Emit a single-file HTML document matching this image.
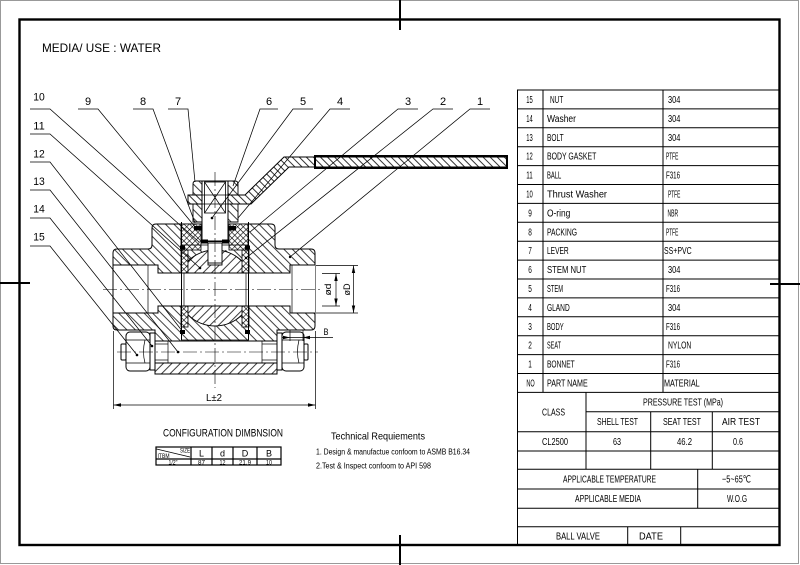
<!DOCTYPE html>
<html><head><meta charset="utf-8"><style>
html,body{margin:0;padding:0;background:#fff;}
svg{display:block;}
text{font-family:"Liberation Sans","DejaVu Sans",sans-serif;fill:#000;}
.t{font-size:10px;}
.n{font-size:11px;fill:#111;}
</style></head><body>
<svg width="800" height="565" viewBox="0 0 800 565" xmlns="http://www.w3.org/2000/svg">
<defs>
 <pattern id="hb" width="6" height="6" patternUnits="userSpaceOnUse" patternTransform="rotate(-45)"><line x1="0.5" y1="0" x2="0.5" y2="6" stroke="#000" stroke-width="0.75"/></pattern>
 <pattern id="hf" width="6" height="6" patternUnits="userSpaceOnUse" patternTransform="rotate(45)"><line x1="0.5" y1="0" x2="0.5" y2="6" stroke="#000" stroke-width="0.75"/></pattern>
 <pattern id="hl" width="5" height="5" patternUnits="userSpaceOnUse" patternTransform="rotate(-45)"><line x1="0.5" y1="0" x2="0.5" y2="5" stroke="#000" stroke-width="0.8"/></pattern>
 <pattern id="hx" width="4" height="4" patternUnits="userSpaceOnUse" patternTransform="rotate(45)"><path d="M0.3,0V4M0,0.3H4" stroke="#000" stroke-width="0.6" fill="none"/></pattern>
 <clipPath id="bc"><rect x="182" y="240" width="66" height="100"/></clipPath>
</defs>

<!-- frames -->
<rect x="0.5" y="0.5" width="798" height="563" fill="none" stroke="#999" stroke-width="1"/>
<rect x="19.5" y="19.5" width="760" height="525.5" fill="none" stroke="#000" stroke-width="2.4"/>
<line x1="400" y1="0" x2="400" y2="30" stroke="#000" stroke-width="2"/>
<line x1="400" y1="535" x2="400" y2="565" stroke="#000" stroke-width="2"/>
<line x1="0" y1="283" x2="30" y2="283" stroke="#000" stroke-width="2"/>
<line x1="770" y1="284" x2="800" y2="284" stroke="#000" stroke-width="2"/>

<text x="42" y="52" font-size="12" textLength="119" lengthAdjust="spacingAndGlyphs">MEDIA/ USE  : WATER</text>

<!-- ============ TABLE ============ -->
<g stroke="#000" stroke-width="1" fill="none">
 <line x1="517" y1="90" x2="779" y2="90"/>
 <line x1="517.5" y1="90" x2="517.5" y2="545"/>
 <line x1="543" y1="90" x2="543" y2="392.4"/>
 <line x1="663" y1="90" x2="663" y2="392.4"/>
 <line x1="517" y1="108.9" x2="779" y2="108.9"/>
 <line x1="517" y1="127.8" x2="779" y2="127.8"/>
 <line x1="517" y1="146.7" x2="779" y2="146.7"/>
 <line x1="517" y1="165.6" x2="779" y2="165.6"/>
 <line x1="517" y1="184.5" x2="779" y2="184.5"/>
 <line x1="517" y1="203.4" x2="779" y2="203.4"/>
 <line x1="517" y1="222.3" x2="779" y2="222.3"/>
 <line x1="517" y1="241.2" x2="779" y2="241.2"/>
 <line x1="517" y1="260.1" x2="779" y2="260.1"/>
 <line x1="517" y1="279" x2="779" y2="279"/>
 <line x1="517" y1="297.9" x2="779" y2="297.9"/>
 <line x1="517" y1="316.8" x2="779" y2="316.8"/>
 <line x1="517" y1="335.7" x2="779" y2="335.7"/>
 <line x1="517" y1="354.6" x2="779" y2="354.6"/>
 <line x1="517" y1="373.5" x2="779" y2="373.5"/>
 <line x1="517" y1="392.4" x2="779" y2="392.4"/>
 <line x1="586" y1="411.7" x2="779" y2="411.7"/>
 <line x1="517" y1="431.7" x2="779" y2="431.7"/>
 <line x1="517" y1="451" x2="779" y2="451"/>
 <line x1="517" y1="469.3" x2="779" y2="469.3"/>
 <line x1="517" y1="489" x2="779" y2="489"/>
 <line x1="517" y1="508.3" x2="779" y2="508.3"/>
 <line x1="517" y1="526.7" x2="779" y2="526.7"/>
 <line x1="586" y1="392.4" x2="586" y2="469.3"/>
 <line x1="650.7" y1="411.7" x2="650.7" y2="469.3"/>
 <line x1="712.3" y1="411.7" x2="712.3" y2="469.3"/>
 <line x1="697.7" y1="469.3" x2="697.7" y2="508.3"/>
 <line x1="627.7" y1="526.7" x2="627.7" y2="545"/>
 <line x1="680.7" y1="526.7" x2="680.7" y2="545"/>
</g>
<g class="t">
 <text x="529.5" y="103" text-anchor="middle" textLength="6.5" lengthAdjust="spacingAndGlyphs">15</text>
 <text x="529.5" y="121.9" text-anchor="middle" textLength="6.5" lengthAdjust="spacingAndGlyphs">14</text>
 <text x="529.5" y="140.8" text-anchor="middle" textLength="6.5" lengthAdjust="spacingAndGlyphs">13</text>
 <text x="529.5" y="159.7" text-anchor="middle" textLength="6.5" lengthAdjust="spacingAndGlyphs">12</text>
 <text x="529.5" y="178.6" text-anchor="middle" textLength="6.5" lengthAdjust="spacingAndGlyphs">11</text>
 <text x="529.5" y="197.5" text-anchor="middle" textLength="6.5" lengthAdjust="spacingAndGlyphs">10</text>
 <text x="530" y="216.4" text-anchor="middle" textLength="3.6" lengthAdjust="spacingAndGlyphs">9</text>
 <text x="530" y="235.3" text-anchor="middle" textLength="3.6" lengthAdjust="spacingAndGlyphs">8</text>
 <text x="530" y="254.2" text-anchor="middle" textLength="3.6" lengthAdjust="spacingAndGlyphs">7</text>
 <text x="530" y="273.1" text-anchor="middle" textLength="3.6" lengthAdjust="spacingAndGlyphs">6</text>
 <text x="530" y="292" text-anchor="middle" textLength="3.6" lengthAdjust="spacingAndGlyphs">5</text>
 <text x="530" y="310.9" text-anchor="middle" textLength="3.6" lengthAdjust="spacingAndGlyphs">4</text>
 <text x="530" y="329.8" text-anchor="middle" textLength="3.6" lengthAdjust="spacingAndGlyphs">3</text>
 <text x="530" y="348.7" text-anchor="middle" textLength="3.6" lengthAdjust="spacingAndGlyphs">2</text>
 <text x="530" y="367.6" text-anchor="middle" textLength="3.6" lengthAdjust="spacingAndGlyphs">1</text>
 <text x="530.5" y="386.5" text-anchor="middle" textLength="8.3" lengthAdjust="spacingAndGlyphs">NO</text>

 <text x="550" y="103" textLength="13.3" lengthAdjust="spacingAndGlyphs">NUT</text>
 <text x="547" y="121.9" textLength="29" lengthAdjust="spacingAndGlyphs">Washer</text>
 <text x="547" y="140.8" textLength="16.7" lengthAdjust="spacingAndGlyphs">BOLT</text>
 <text x="547" y="159.7" textLength="49.3" lengthAdjust="spacingAndGlyphs">BODY GASKET</text>
 <text x="547" y="178.6" textLength="14.3" lengthAdjust="spacingAndGlyphs">BALL</text>
 <text x="547" y="197.5" textLength="60" lengthAdjust="spacingAndGlyphs">Thrust Washer</text>
 <text x="547" y="216.4" textLength="23.3" lengthAdjust="spacingAndGlyphs">O-ring</text>
 <text x="547" y="235.3" textLength="30" lengthAdjust="spacingAndGlyphs">PACKING</text>
 <text x="547" y="254.2" textLength="21.7" lengthAdjust="spacingAndGlyphs">LEVER</text>
 <text x="547" y="273.1" textLength="39.3" lengthAdjust="spacingAndGlyphs">STEM NUT</text>
 <text x="547" y="292" textLength="16" lengthAdjust="spacingAndGlyphs">STEM</text>
 <text x="547" y="310.9" textLength="22.7" lengthAdjust="spacingAndGlyphs">GLAND</text>
 <text x="547" y="329.8" textLength="16.7" lengthAdjust="spacingAndGlyphs">BODY</text>
 <text x="547" y="348.7" textLength="14" lengthAdjust="spacingAndGlyphs">SEAT</text>
 <text x="547" y="367.6" textLength="27.7" lengthAdjust="spacingAndGlyphs">BONNET</text>
 <text x="547" y="386.5" textLength="40.7" lengthAdjust="spacingAndGlyphs">PART NAME</text>

 <text x="668" y="103" textLength="12.3" lengthAdjust="spacingAndGlyphs">304</text>
 <text x="668" y="121.9" textLength="12.3" lengthAdjust="spacingAndGlyphs">304</text>
 <text x="668" y="140.8" textLength="12.3" lengthAdjust="spacingAndGlyphs">304</text>
 <text x="666" y="159.7" textLength="12.3" lengthAdjust="spacingAndGlyphs">PTFE</text>
 <text x="666" y="178.6" textLength="14" lengthAdjust="spacingAndGlyphs">F316</text>
 <text x="668" y="197.5" textLength="12.3" lengthAdjust="spacingAndGlyphs">PTFE</text>
 <text x="667.5" y="216.4" textLength="10.7" lengthAdjust="spacingAndGlyphs">NBR</text>
 <text x="666" y="235.3" textLength="12.3" lengthAdjust="spacingAndGlyphs">PTFE</text>
 <text x="664" y="254.2" textLength="27.7" lengthAdjust="spacingAndGlyphs">SS+PVC</text>
 <text x="668" y="273.1" textLength="12.3" lengthAdjust="spacingAndGlyphs">304</text>
 <text x="666" y="292" textLength="14" lengthAdjust="spacingAndGlyphs">F316</text>
 <text x="668" y="310.9" textLength="12.3" lengthAdjust="spacingAndGlyphs">304</text>
 <text x="666" y="329.8" textLength="14" lengthAdjust="spacingAndGlyphs">F316</text>
 <text x="668" y="348.7" textLength="23.3" lengthAdjust="spacingAndGlyphs">NYLON</text>
 <text x="666" y="367.6" textLength="14" lengthAdjust="spacingAndGlyphs">F316</text>
 <text x="664" y="386.5" textLength="35.7" lengthAdjust="spacingAndGlyphs">MATERIAL</text>

 <text x="553.5" y="415.4" text-anchor="middle" textLength="23" lengthAdjust="spacingAndGlyphs">CLASS</text>
 <text x="683" y="405.6" text-anchor="middle" textLength="80" lengthAdjust="spacingAndGlyphs">PRESSURE TEST (MPa)</text>
 <text x="617.5" y="425.2" text-anchor="middle" textLength="41" lengthAdjust="spacingAndGlyphs">SHELL TEST</text>
 <text x="682" y="425.2" text-anchor="middle" textLength="38" lengthAdjust="spacingAndGlyphs">SEAT TEST</text>
 <text x="741" y="425.2" text-anchor="middle" textLength="38" lengthAdjust="spacingAndGlyphs">AIR TEST</text>
 <text x="555" y="444.8" text-anchor="middle" textLength="26" lengthAdjust="spacingAndGlyphs">CL2500</text>
 <text x="617" y="444.8" text-anchor="middle" textLength="8" lengthAdjust="spacingAndGlyphs">63</text>
 <text x="684.5" y="444.8" text-anchor="middle" textLength="15" lengthAdjust="spacingAndGlyphs">46.2</text>
 <text x="738" y="444.8" text-anchor="middle" textLength="10" lengthAdjust="spacingAndGlyphs">0.6</text>
 <text x="609.5" y="482.7" text-anchor="middle" textLength="93" lengthAdjust="spacingAndGlyphs">APPLICABLE TEMPERATURE</text>
 <text x="736.5" y="482.7" text-anchor="middle" textLength="29" lengthAdjust="spacingAndGlyphs">−5~65℃</text>
 <text x="608" y="502.2" text-anchor="middle" textLength="66" lengthAdjust="spacingAndGlyphs">APPLICABLE MEDIA</text>
 <text x="737" y="502.2" text-anchor="middle" textLength="20" lengthAdjust="spacingAndGlyphs">W.O.G</text>
 <text x="578" y="539.5" text-anchor="middle" textLength="44" lengthAdjust="spacingAndGlyphs">BALL VALVE</text>
 <text x="651" y="539.5" text-anchor="middle" textLength="24" lengthAdjust="spacingAndGlyphs">DATE</text>
</g>

<!-- ============ VALVE DRAWING ============ -->
<path d="M113,253 Q113,249 117,249 L148,249 Q152,249 152,245 L152,228 Q152,224 156,224 L271,224 Q275,224 275,228 L275,245 Q275,249 279,249 L311,249 Q315,249 315,253 L315,326 Q315,330 311,330 L277,330 L277,374 L155,374 L155,330 L117,330 Q113,330 113,326 Z" fill="url(#hb)" stroke="#000" stroke-width="1"/>
<rect x="155" y="363" width="122" height="11" fill="#fff"/>
<rect x="155" y="363" width="122" height="11" fill="url(#hf)" stroke="#000" stroke-width="1"/>

<rect x="113.5" y="265" width="45" height="48" fill="#fff"/>
<rect x="158" y="273" width="132" height="33" fill="#fff"/>
<rect x="290" y="265" width="25" height="48" fill="#fff"/>
<g clip-path="url(#bc)">
 <circle cx="215" cy="288" r="38" fill="#fff"/>
 <circle cx="215" cy="288" r="38" fill="url(#hf)" stroke="#000" stroke-width="1"/>
</g>
<rect x="182" y="273.5" width="66" height="32" fill="#fff"/>
<rect x="208" y="250" width="14" height="15" fill="#fff" stroke="#000" stroke-width="0.9"/>
<rect x="181" y="250" width="7" height="23" fill="#fff"/>
<rect x="181" y="250" width="7" height="23" fill="url(#hx)" stroke="#000" stroke-width="0.8"/>
<rect x="181" y="306" width="7" height="21" fill="#fff"/>
<rect x="181" y="306" width="7" height="21" fill="url(#hx)" stroke="#000" stroke-width="0.8"/>
<rect x="242" y="250" width="7" height="23" fill="#fff"/>
<rect x="242" y="250" width="7" height="23" fill="url(#hx)" stroke="#000" stroke-width="0.8"/>
<rect x="242" y="306" width="7" height="21" fill="#fff"/>
<rect x="242" y="306" width="7" height="21" fill="url(#hx)" stroke="#000" stroke-width="0.8"/>
<rect x="181" y="224" width="67" height="26" fill="#fff"/>
<rect x="181" y="224" width="20" height="26" fill="url(#hx)" stroke="#000" stroke-width="0.8"/>
<rect x="229" y="224" width="19" height="26" fill="url(#hx)" stroke="#000" stroke-width="0.8"/>
<line x1="181" y1="245" x2="248" y2="245" stroke="#000" stroke-width="0.8"/>

<g stroke="#000" stroke-width="1" fill="none">
 <path d="M113.5,265 H158 V273 H290 V265 H315"/>
 <path d="M113.5,313 H158 V306 H290 V313 H315"/>
 <line x1="148" y1="265" x2="148" y2="313" stroke-width="0.7"/>
 <line x1="292" y1="265" x2="292" y2="313" stroke-width="0.7"/>
 <line x1="181.5" y1="222" x2="181.5" y2="340"/>
 <line x1="248.5" y1="222" x2="248.5" y2="340"/>
 <line x1="184" y1="273" x2="184" y2="306" stroke-width="0.7"/>
 <line x1="246" y1="273" x2="246" y2="306" stroke-width="0.7"/>
 <line x1="181" y1="340" x2="249" y2="340" stroke-width="0.8"/>
</g>

<path d="M193,184 Q193,181 196,181 L202,181 L202,222 L193,222 Z" fill="#fff"/>
<path d="M193,184 Q193,181 196,181 L202,181 L202,222 L193,222 Z" fill="url(#hb)" stroke="#000" stroke-width="0.9"/>
<path d="M228,181 L235,181 Q238,181 238,184 L238,222 L228,222 Z" fill="#fff"/>
<path d="M228,181 L235,181 Q238,181 238,184 L238,222 L228,222 Z" fill="url(#hb)" stroke="#000" stroke-width="0.9"/>

<path d="M188,195 L245,195 L284,157 L507,157 L507,167 L289,167 L251,204 L188,204 Z" fill="#fff"/>
<path d="M188,195 L245,195 L284,157 L507,157 L507,167 L289,167 L251,204 L188,204 Z" fill="url(#hl)" stroke="#000" stroke-width="1"/>
<rect x="315" y="156" width="192" height="12" fill="none" stroke="#000" stroke-width="2"/>

<rect x="202" y="181" width="26" height="62" fill="#fff" stroke="#000" stroke-width="1"/>
<rect x="204.5" y="182" width="21" height="31" fill="none" stroke="#000" stroke-width="0.8"/>
<path d="M204.5,182 L225.5,213 M225.5,182 L204.5,213" stroke="#000" stroke-width="0.7"/>
<line x1="202" y1="195" x2="228" y2="195" stroke="#000" stroke-width="0.8"/>
<line x1="202" y1="204" x2="228" y2="204" stroke="#000" stroke-width="0.8"/>
<rect x="208" y="243" width="14" height="20" fill="#fff" stroke="#000" stroke-width="0.9"/>

<g fill="#000">
 <rect x="194" y="226" width="8" height="4.5"/>
 <rect x="228" y="226" width="8" height="4.5"/>
 <rect x="201" y="239.5" width="7" height="4"/>
 <rect x="222" y="239.5" width="7" height="4"/>
 <rect x="201" y="240.5" width="28" height="1.5"/>
 <rect x="180" y="245.5" width="5" height="4"/>
 <rect x="245" y="245.5" width="5" height="4"/>
 <rect x="180" y="330" width="5" height="4"/>
 <rect x="245" y="330" width="5" height="4"/>
</g>

<g stroke="#000" stroke-width="1" fill="#fff">
 <rect x="155" y="341" width="122" height="22"/>
 <rect x="150" y="333" width="5" height="37"/>
 <rect x="277" y="333" width="5" height="37"/>
 <rect x="121" y="344" width="5" height="16" rx="1"/>
 <rect x="304" y="344" width="4" height="16" rx="1"/>
 <rect x="126" y="332" width="24" height="39" rx="4"/>
 <rect x="282" y="332" width="22" height="39" rx="4"/>
</g>
<g stroke="#000" stroke-width="0.7" fill="none">
 <line x1="168" y1="341" x2="168" y2="363"/>
 <line x1="262" y1="341" x2="262" y2="363"/>
 <line x1="155" y1="344" x2="168" y2="344"/>
 <line x1="155" y1="360" x2="168" y2="360"/>
 <line x1="262" y1="344" x2="277" y2="344"/>
 <line x1="262" y1="360" x2="277" y2="360"/>
 <line x1="126" y1="340" x2="150" y2="340"/>
 <line x1="126" y1="363" x2="150" y2="363"/>
 <line x1="282" y1="340" x2="304" y2="340"/>
 <line x1="282" y1="363" x2="304" y2="363"/>
 <path d="M145,340 Q142,352 145,363"/>
 <path d="M299,340 Q296,352 299,363"/>
</g>

<g stroke="#000" stroke-width="0.6" stroke-dasharray="14 3 2 3" fill="none">
 <line x1="215" y1="172" x2="215" y2="388"/>
 <line x1="103" y1="289.5" x2="322" y2="289.5"/>
 <line x1="117" y1="352" x2="318" y2="352"/>
</g>

<g stroke="#000" stroke-width="0.7" fill="none">
 <line x1="113.5" y1="331" x2="113.5" y2="409"/>
 <line x1="315.5" y1="331" x2="315.5" y2="409"/>
 <line x1="113.5" y1="405" x2="315.5" y2="405"/>
 <line x1="316" y1="265.5" x2="358" y2="265.5"/>
 <line x1="316" y1="313" x2="358" y2="313"/>
 <line x1="322" y1="273.5" x2="340" y2="273.5"/>
 <line x1="322" y1="306" x2="340" y2="306"/>
 <line x1="353.5" y1="265.5" x2="353.5" y2="313"/>
 <line x1="336" y1="273.5" x2="336" y2="306"/>
 <line x1="290" y1="330" x2="290" y2="341"/>
 <line x1="303" y1="330" x2="303" y2="341"/>
 <line x1="282" y1="337.5" x2="333" y2="337.5"/>
</g>
<g fill="#000">
 <path d="M113.5,405 L121,403.3 L121,406.7 Z"/>
 <path d="M315.5,405 L308,403.3 L308,406.7 Z"/>
 <path d="M353.5,265.5 L351.8,273 L355.2,273 Z"/>
 <path d="M353.5,313 L351.8,305.5 L355.2,305.5 Z"/>
 <path d="M336,273.5 L334.3,281 L337.7,281 Z"/>
 <path d="M336,306 L334.3,298.5 L337.7,298.5 Z"/>
 <path d="M290,337.5 L283,335.8 L283,339.2 Z"/>
 <path d="M303,337.5 L310,335.8 L310,339.2 Z"/>
</g>
<text x="214" y="401" font-size="10" text-anchor="middle" textLength="16" lengthAdjust="spacingAndGlyphs">L±2</text>
<text x="331" y="289.5" font-size="9.5" text-anchor="middle" transform="rotate(-90 331 289.5)" textLength="12" lengthAdjust="spacingAndGlyphs">ød</text>
<text x="350" y="289.5" font-size="9.5" text-anchor="middle" transform="rotate(-90 350 289.5)" textLength="12" lengthAdjust="spacingAndGlyphs">øD</text>
<text x="326" y="335" font-size="9.5" text-anchor="middle" textLength="5" lengthAdjust="spacingAndGlyphs">B</text>

<g stroke="#000" stroke-width="0.75" fill="none">
 <path d="M30,109 H50 L199,242"/>
 <path d="M78,109 H98 L196,228"/>
 <path d="M133,109 H153 L195,223"/>
 <path d="M168,109 H188 L195,182"/>
 <path d="M278,109 H260 L233,186"/>
 <path d="M313,109 H293 L212,218"/>
 <path d="M350,109 H330 L238,218"/>
 <path d="M418,109 H398 L250,232"/>
 <path d="M453,109 H433 L246,258"/>
 <path d="M490,109 H470 L290,257"/>
 <path d="M30,134 H50 L200,268"/>
 <path d="M30,162 H50 L183,332"/>
 <path d="M30,190 H50 L178,352"/>
 <path d="M30,218 H50 L152,346"/>
 <path d="M30,246 H50 L137,355"/>
</g>
<g fill="#000">
 <circle cx="212" cy="218" r="1.3"/>
 <circle cx="200" cy="268" r="1.3"/>
 <circle cx="178" cy="352" r="1.3"/>
 <circle cx="152" cy="346" r="1.3"/>
 <circle cx="137" cy="355" r="1.3"/>
 <circle cx="290" cy="257" r="1.2"/>
 <circle cx="246" cy="258" r="1.2"/>
</g>
<g class="n">
 <text x="39" y="100.5" text-anchor="middle" textLength="11.5" lengthAdjust="spacingAndGlyphs">10</text>
 <text x="88" y="105" text-anchor="middle">9</text>
 <text x="143" y="105" text-anchor="middle">8</text>
 <text x="178" y="105" text-anchor="middle">7</text>
 <text x="269" y="105" text-anchor="middle">6</text>
 <text x="303" y="105" text-anchor="middle">5</text>
 <text x="340" y="105" text-anchor="middle">4</text>
 <text x="408" y="105" text-anchor="middle">3</text>
 <text x="443" y="105" text-anchor="middle">2</text>
 <text x="480" y="105" text-anchor="middle">1</text>
 <text x="39" y="129.5" text-anchor="middle" textLength="11.5" lengthAdjust="spacingAndGlyphs">11</text>
 <text x="39" y="157.3" text-anchor="middle" textLength="11.5" lengthAdjust="spacingAndGlyphs">12</text>
 <text x="39" y="185" text-anchor="middle" textLength="11.5" lengthAdjust="spacingAndGlyphs">13</text>
 <text x="39" y="212.7" text-anchor="middle" textLength="11.5" lengthAdjust="spacingAndGlyphs">14</text>
 <text x="39" y="240.3" text-anchor="middle" textLength="11.5" lengthAdjust="spacingAndGlyphs">15</text>
</g>

<text x="163" y="436.5" font-size="11" fill="#222" textLength="120" lengthAdjust="spacingAndGlyphs">CONFIGURATION DIMBNSION</text>
<g stroke="#000" stroke-width="1.2" fill="none">
 <rect x="156" y="447" width="125" height="18"/>
 <line x1="156" y1="459" x2="281" y2="459"/>
 <line x1="191" y1="447" x2="191" y2="465"/>
 <line x1="212" y1="447" x2="212" y2="465"/>
 <line x1="233" y1="447" x2="233" y2="465"/>
 <line x1="257" y1="447" x2="257" y2="465"/>
 <line x1="156.5" y1="449" x2="190" y2="457" stroke-width="0.7"/>
</g>
<text x="180" y="452.5" font-size="6" textLength="10" lengthAdjust="spacingAndGlyphs">SIZE</text>
<text x="157.5" y="458" font-size="6.5" textLength="12" lengthAdjust="spacingAndGlyphs">ITBM</text>
<g font-size="9" text-anchor="middle">
 <text x="201.5" y="456.5">L</text>
 <text x="222.5" y="456.5">d</text>
 <text x="245" y="456.5">D</text>
 <text x="269" y="456.5">B</text>
</g>
<g font-size="6.5" text-anchor="middle">
 <text x="173" y="464.3" textLength="9" lengthAdjust="spacingAndGlyphs">1/2"</text>
 <text x="201.5" y="464.3" textLength="7" lengthAdjust="spacingAndGlyphs">87</text>
 <text x="222.5" y="464.3" textLength="6" lengthAdjust="spacingAndGlyphs">12</text>
 <text x="245" y="464.3" textLength="12" lengthAdjust="spacingAndGlyphs">21.9</text>
 <text x="269" y="464.3" textLength="6" lengthAdjust="spacingAndGlyphs">10</text>
</g>

<text x="331" y="439.5" font-size="10.5" fill="#222" textLength="94" lengthAdjust="spacingAndGlyphs">Technical Requiements</text>
<text x="316" y="454.5" font-size="8" fill="#222" textLength="154" lengthAdjust="spacingAndGlyphs">1. Design &amp; manufactue confoom to  ASMB B16.34</text>
<text x="316" y="468.5" font-size="8" fill="#222" textLength="115" lengthAdjust="spacingAndGlyphs">2.Test &amp; Inspect confoom to API 598</text>
</svg>
</body></html>
